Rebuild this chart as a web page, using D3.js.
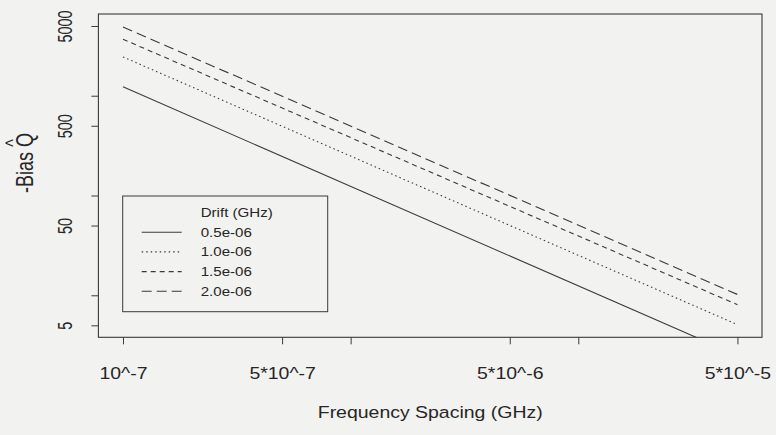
<!DOCTYPE html>
<html lang="en">
  <head>
    <meta charset="UTF-8" />
    <title>Bias vs frequency spacing</title>
    <script src="https://d3js.org/d3.v7.min.js"></script>
    <style>
      body { margin: 0; background: #f2f2f0; }
      text { font-family: "Liberation Sans", Arial, sans-serif; fill: #262626; }
    </style>
  </head>
  <body>
    <svg width="776" height="435"></svg>
    <script>
      // values
      const spacing = [1e-7, 5e-5];
      const drift = ["0.5e-06", "1.0e-06", "1.5e-06", "2.0e-06"];
      const bias05 = [1227, 2.5];
      const bias10 = [2449, 5.08];
      const bias15 = [3681, 8.05];
      const bias20 = [4886, 10.2];
      const xTicks = [1e-7, 5e-7, 1e-6, 5e-6, 1e-5, 5e-5];
      const xTickLabels = ["10^-7", "5*10^-7", "", "5*10^-6", "", "5*10^-5"];
      const yTicks = [5, 10, 50, 100, 500, 1000, 5000];
      const yTickLabels = ["5", "", "50", "", "500", "", "5000"];

      const series = [bias05, bias10, bias15, bias20];
      const dashes = [null, "1.5,3", "5,4", "10,5"];
      const sx = 1.18; // the scanned figure is a bit stretched sideways

      const svg = d3.select("svg");
      const box = { left: 98.4, right: 762, top: 14, bottom: 337.3 };
      const padX = (box.right - box.left) * 0.04 / 1.08;
      const padY = (box.bottom - box.top) * 0.04 / 1.08;

      const x = d3.scaleLog().domain([1e-7, 5e-5]).range([box.left + padX, box.right - padX]);
      const y = d3.scaleLog().domain([5, 5000]).range([box.bottom - padY, box.top + padY]);

      svg.append("clipPath").attr("id", "plotclip")
        .append("rect")
        .attr("x", box.left).attr("y", box.top)
        .attr("width", box.right - box.left).attr("height", box.bottom - box.top);

      // lines
      const line = d3.line()
        .x((d, i) => x(spacing[i]))
        .y(d => y(d));

      svg.append("g").attr("clip-path", "url(#plotclip)")
        .selectAll("path").data(series).enter()
        .append("path")
        .attr("d", d => line(d))
        .attr("fill", "none")
        .attr("stroke", "#3a3a3a")
        .attr("stroke-width", 1.1)
        .attr("stroke-dasharray", (d, i) => dashes[i]);

      // frame
      svg.append("rect")
        .attr("x", box.left).attr("y", box.top)
        .attr("width", box.right - box.left).attr("height", box.bottom - box.top)
        .attr("fill", "none").attr("stroke", "#3a3a3a").attr("stroke-width", 1.1);

      // x axis
      const xAxis = svg.append("g")
        .attr("transform", `translate(0,${box.bottom})`)
        .call(d3.axisBottom(x).tickValues(xTicks).tickSize(7)
          .tickFormat((d, i) => xTickLabels[i]));
      xAxis.select(".domain").remove();
      xAxis.selectAll(".tick line").attr("stroke", "#3a3a3a");
      xAxis.selectAll(".tick text")
        .attr("y", null).attr("dy", null)
        .attr("transform", `translate(0,41.5) scale(${sx},1)`)
        .style("font-size", "16.5px").style("fill", "#262626");

      // y axis
      const yAxis = svg.append("g")
        .attr("transform", `translate(${box.left},0)`)
        .call(d3.axisLeft(y).tickValues(yTicks).tickSize(7)
          .tickFormat((d, i) => yTickLabels[i]));
      yAxis.select(".domain").remove();
      yAxis.selectAll(".tick line").attr("stroke", "#3a3a3a");
      yAxis.selectAll(".tick text")
        .attr("x", null).attr("dy", null)
        .attr("text-anchor", "middle")
        .attr("transform", "translate(-26.5,0) scale(1.45,1) rotate(-90)")
        .style("font-size", "14.5px").style("fill", "#262626");

      // axis titles
      svg.append("text")
        .attr("transform", `translate(${(box.left + box.right) / 2},418) scale(${sx},1)`)
        .attr("text-anchor", "middle")
        .style("font-size", "16.5px")
        .text("Frequency Spacing (GHz)");

      svg.append("text")
        .attr("transform", "translate(33,163) scale(1.3,1) rotate(-90)")
        .attr("text-anchor", "middle")
        .style("font-size", "18px")
        .text("-Bias Q");
      svg.append("text")
        .attr("transform", "translate(20,143) scale(1.3,1) rotate(-90)")
        .attr("text-anchor", "middle")
        .style("font-size", "16px")
        .text("^");

      // legend
      const lg = svg.append("g");
      lg.append("rect")
        .attr("x", 122.7).attr("y", 196)
        .attr("width", 205).attr("height", 115.7)
        .attr("fill", "none").attr("stroke", "#3a3a3a").attr("stroke-width", 1);
      lg.append("text")
        .attr("transform", `translate(200.7,217) scale(${sx},1)`)
        .style("font-size", "12.8px")
        .text("Drift (GHz)");
      const rowY = i => 232.2 + i * 19.7;
      drift.forEach((lab, i) => {
        lg.append("line")
          .attr("x1", 141.7).attr("x2", 181.7)
          .attr("y1", rowY(i)).attr("y2", rowY(i))
          .attr("stroke", "#3a3a3a").attr("stroke-width", 1.1)
          .attr("stroke-dasharray", dashes[i]);
        lg.append("text")
          .attr("transform", `translate(200.7,${rowY(i) + 4.5}) scale(${sx},1)`)
          .style("font-size", "12.8px")
          .text(lab);
      });
    </script>
  </body>
</html>
